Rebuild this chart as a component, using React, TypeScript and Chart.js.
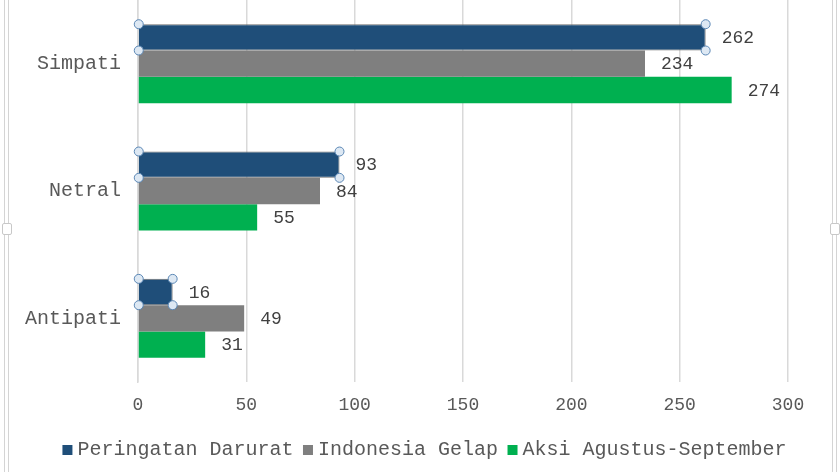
import React, { useEffect, useRef } from 'react';
import { Chart, registerables } from 'chart.js';

Chart.register(...registerables);

const categories = ['Simpati', 'Netral', 'Antipati'];
const seriesNames = ['Peringatan Darurat', 'Indonesia Gelap', 'Aksi Agustus-September'];
const peringatanDarurat = [262, 93, 16];
const indonesiaGelap = [234, 84, 49];
const aksiAgustusSeptember = [274, 55, 31];
const xTicks = [0, 50, 100, 150, 200, 250, 300];

const seriesColors = ['#1f4e79', '#7f7f7f', '#00b050'];
const FONT = '"Liberation Mono", "Courier New", monospace';

const barLabels = {
  id: 'barLabels',
  afterDatasetsDraw(chart: any) {
    const ctx = chart.ctx;
    ctx.save();
    ctx.font = `18px ${FONT}`;
    ctx.fillStyle = '#404040';
    ctx.textBaseline = 'middle';
    ctx.textAlign = 'left';
    chart.data.datasets.forEach((ds: any, i: number) => {
      const meta = chart.getDatasetMeta(i);
      meta.data.forEach((bar: any, j: number) => {
        ctx.fillText(String(ds.data[j]), bar.x + 16, bar.y + 1);
      });
    });
    ctx.restore();
  },
};

const selectionHandles = {
  id: 'selectionHandles',
  afterDatasetsDraw(chart: any) {
    const ctx = chart.ctx;
    const meta = chart.getDatasetMeta(0);
    ctx.save();
    ctx.lineWidth = 1;
    ctx.strokeStyle = '#5b87b5';
    ctx.fillStyle = '#dde8f3';
    meta.data.forEach((bar: any) => {
      const top = bar.y - bar.height / 2;
      const bottom = bar.y + bar.height / 2;
      const pts = [
        [bar.base, top],
        [bar.base, bottom],
        [bar.x, top],
        [bar.x, bottom],
      ];
      pts.forEach(([px, py]) => {
        ctx.beginPath();
        ctx.arc(px, py, 4.5, 0, Math.PI * 2);
        ctx.fill();
        ctx.stroke();
      });
    });
    ctx.restore();
  },
};

export default function App() {
  const canvasRef = useRef<HTMLCanvasElement | null>(null);

  useEffect(() => {
    if (!canvasRef.current) return;
    const chart = new Chart(canvasRef.current, {
      type: 'bar',
      data: {
        labels: categories,
        datasets: [
          {
            label: seriesNames[0],
            data: peringatanDarurat,
            backgroundColor: seriesColors[0],
            borderColor: '#6f6f6f',
            borderWidth: 1,
            categoryPercentage: 0.62,
            barPercentage: 1,
          },
          {
            label: seriesNames[1],
            data: indonesiaGelap,
            backgroundColor: seriesColors[1],
            categoryPercentage: 0.62,
            barPercentage: 1,
          },
          {
            label: seriesNames[2],
            data: aksiAgustusSeptember,
            backgroundColor: seriesColors[2],
            categoryPercentage: 0.62,
            barPercentage: 1,
          },
        ],
      },
      options: {
        indexAxis: 'y',
        animation: false,
        responsive: false,
        devicePixelRatio: 1,
        layout: { padding: { left: 14, right: 0, top: 0, bottom: 2 } },
        scales: {
          x: {
            min: 0,
            max: 300,
            afterBuildTicks: (scale: any) => {
              scale.ticks = xTicks.map((v) => ({ value: v }));
            },
            afterFit: (scale: any) => {
              scale.height = 43.5;
              scale.paddingRight = 52;
            },
            grid: { color: '#d9d9d9', lineWidth: 1.5, drawTicks: false },
            border: { display: false },
            ticks: {
              padding: 12,
              color: '#595959',
              font: { family: FONT, size: 18 },
            },
          },
          y: {
            afterFit: (scale: any) => {
              scale.width = 124;
              scale.paddingTop = 0;
              scale.paddingBottom = 0;
            },
            grid: { display: false, drawTicks: false },
            border: { display: true, color: '#d9d9d9', width: 1.5 },
            ticks: {
              padding: 17,
              color: '#595959',
              font: { family: FONT, size: 20, lineHeight: 0.01 },
            },
          },
        },
        plugins: {
          legend: {
            position: 'bottom',
            labels: {
              usePointStyle: true,
              pointStyle: 'rect',
              boxWidth: 0.01,
              boxHeight: 10,
              padding: 14.5,
              color: '#595959',
              font: { family: FONT, size: 20 },
              generateLabels: (c: any) =>
                Chart.defaults.plugins.legend.labels
                  .generateLabels(c)
                  .map((item: any) => ({ ...item, lineWidth: 0, strokeStyle: item.fillStyle })),
            },
          },
          tooltip: { enabled: false },
        },
      },
      plugins: [selectionHandles, barLabels],
    } as any);
    return () => chart.destroy();
  }, []);

  const line = (left: number): React.CSSProperties => ({
    position: 'absolute',
    left,
    top: 0,
    width: 1,
    height: 472,
    background: '#d4d4d4',
  });
  const handle = (left: number): React.CSSProperties => ({
    position: 'absolute',
    left,
    top: 223,
    width: 8,
    height: 10,
    background: '#ffffff',
    border: '1px solid #c8c8c8',
    borderRadius: 2,
  });

  return (
    <div
      style={{
        position: 'absolute',
        left: 0,
        top: 0,
        width: 840,
        height: 472,
        background: '#ffffff',
        overflow: 'hidden',
      }}
    >
      <canvas ref={canvasRef} width={840} height={472} style={{ display: 'block' }} />
      <div style={line(4)} />
      <div style={line(8)} />
      <div style={line(832)} />
      <div style={line(836)} />
      <div style={handle(2)} />
      <div style={handle(830)} />
    </div>
  );
}
